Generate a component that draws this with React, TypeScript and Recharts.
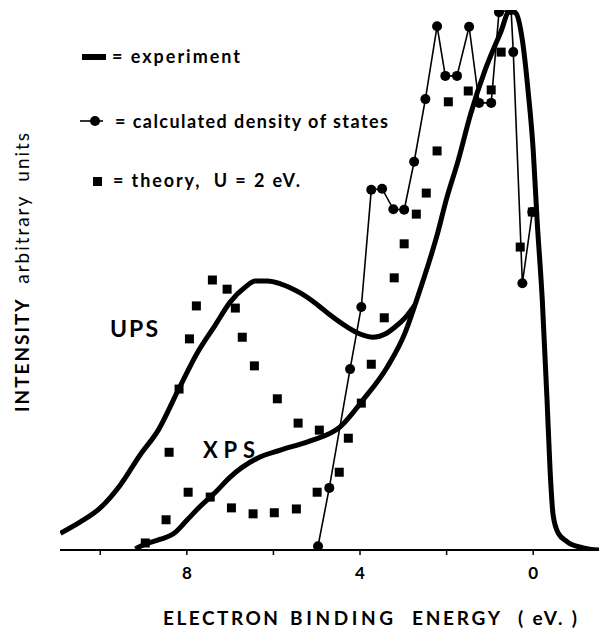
import {
  ComposedChart,
  Line,
  Scatter,
  XAxis,
  YAxis,
} from 'recharts';

// binding energy (eV), intensity in arbitrary units (0-100)
const upsExperiment: [number, number][] = [
  [10.92, 3.1], [10.46, 5.2], [10.0, 7.8], [9.54, 12.0], [9.08, 17.6], [8.66, 22.2],
  [8.2, 29.6], [7.76, 36.5], [7.34, 41.7], [7.0, 45.9], [6.65, 48.7], [6.42, 49.8],
  [6.14, 49.8], [5.84, 49.3], [5.38, 47.6], [5.03, 45.7], [4.69, 43.5], [4.3, 41.3],
  [4.0, 40.0], [3.7, 39.4], [3.42, 40.0], [3.19, 41.3], [2.96, 43.0], [2.73, 45.4],
];

const xpsExperiment: [number, number][] = [
  [9.19, 0.2], [8.96, 1.1], [8.61, 2.0], [8.31, 3.0], [7.99, 5.6], [7.69, 8.1],
  [7.34, 10.7], [7.0, 13.5], [6.37, 17.0], [5.84, 18.5], [5.15, 20.2], [4.46, 22.8],
  [3.93, 27.8], [3.37, 33.9], [2.96, 40.2], [2.73, 45.4], [2.45, 52.2], [2.22, 58.3],
  [2.01, 64.8], [1.73, 72.2], [1.45, 80.6], [1.11, 88.9], [0.76, 95.7], [0.53, 100],
  [0.39, 99.3], [0.25, 94.4], [0.12, 85.2], [0.0, 74.1], [-0.09, 61.1], [-0.21, 46.3],
  [-0.32, 27.8], [-0.39, 14.8], [-0.46, 6.5], [-0.58, 3.1], [-0.79, 1.5], [-1.15, 0.4],
  [-1.52, 0],
];

const densityOfStates: [number, number][] = [
  [4.97, 0.7], [4.71, 11.5], [4.23, 33.5], [3.97, 45.0], [3.74, 66.7], [3.49, 66.9],
  [3.23, 63.1], [2.98, 63.0], [2.75, 71.9], [2.49, 83.5], [2.22, 97.0], [2.03, 87.8],
  [1.76, 87.8], [1.48, 96.9], [1.25, 82.8], [0.97, 82.8], [0.79, 99.6], [0.51, 100],
  [0.46, 92.2], [0.25, 49.4], [0.02, 62.6],
];

const theoryUps: [number, number][] = [
  [8.41, 18.1], [8.18, 29.8], [7.94, 39.1], [7.78, 45.2], [7.41, 50.0], [7.07, 48.3],
  [6.88, 44.8], [6.72, 39.4], [6.44, 34.1], [5.91, 28.0], [5.43, 23.5], [4.94, 22.2],
  [4.27, 20.7],
];

const theoryXps: [number, number][] = [
  [8.96, 1.3], [8.48, 5.6], [7.97, 10.7], [7.46, 9.8], [6.97, 7.8], [6.47, 6.7],
  [5.98, 6.9], [5.47, 7.6], [4.99, 10.7], [4.48, 14.4], [3.97, 27.2], [3.74, 34.4],
  [3.44, 43.0], [3.21, 50.4], [2.98, 56.7], [2.7, 62.2], [2.47, 66.1], [2.22, 73.9],
  [1.96, 83.0], [1.5, 85.0], [0.97, 85.2], [0.74, 92.2], [0.3, 56.1], [0.02, 62.6],
];

const xTicks = [10, 8, 6, 4, 2, 0];
const xTickLabels = ['', '8', '', '4', '', '0'];

const toPoints = (arr: [number, number][]) => arr.map(([x, y]) => ({ x, y }));

const FONT = 'Lato, "Open Sans", sans-serif';

const XTick = (props: any) => {
  const { x, y, payload } = props;
  const label = xTickLabels[xTicks.indexOf(payload.value)];
  if (!label) return <g />;
  return (
    <text x={x} y={y + 22} textAnchor="middle" fontFamily={FONT} fontWeight={700} fontSize={17} fill="#000">
      {label}
    </text>
  );
};

const SquareDot = (props: any) => {
  const { cx, cy } = props;
  return <rect x={cx - 4.5} y={cy - 4.5} width={9} height={9} fill="#000" />;
};

export default function App() {
  return (
    <div style={{ position: 'fixed', left: 0, top: 0, width: 599, height: 630, background: '#fff' }}>
      <ComposedChart width={599} height={630} margin={{ top: 10, right: 0, left: 60, bottom: 50 }}>
        <XAxis
          dataKey="x"
          type="number"
          domain={[-1.52, 10.93]}
          allowDataOverflow
          reversed
          ticks={xTicks}
          tick={<XTick />}
          tickSize={5}
          height={30}
          axisLine={{ stroke: '#000', strokeWidth: 2 }}
          tickLine={{ stroke: '#000', strokeWidth: 1.5 }}
        />
        <YAxis
          dataKey="y"
          type="number"
          domain={[0, 100]}
          allowDataOverflow
          width={0}
          tick={false}
          tickLine={false}
          axisLine={{ stroke: '#000', strokeWidth: 2 }}
        />
        <Line
          data={toPoints(upsExperiment)}
          dataKey="y"
          type="monotone"
          stroke="#000"
          strokeWidth={5}
          dot={false}
          isAnimationActive={false}
        />
        <Line
          data={toPoints(xpsExperiment)}
          dataKey="y"
          type="monotone"
          stroke="#000"
          strokeWidth={5}
          dot={false}
          isAnimationActive={false}
        />
        <Line
          data={toPoints(densityOfStates)}
          dataKey="y"
          type="linear"
          stroke="#000"
          strokeWidth={1.6}
          dot={{ r: 5, fill: '#000', stroke: 'none' }}
          isAnimationActive={false}
        />
        <Scatter data={toPoints(theoryUps)} dataKey="y" shape={<SquareDot />} isAnimationActive={false} />
        <Scatter data={toPoints(theoryXps)} dataKey="y" shape={<SquareDot />} isAnimationActive={false} />
      </ComposedChart>

      {/* legend, annotations and axis titles */}
      <svg
        width={599}
        height={630}
        style={{ position: 'absolute', left: 0, top: 0, pointerEvents: 'none' }}
        fontFamily={FONT}
        fill="#000"
      >
        <rect x={82} y={54} width={24} height={6} fill="#000" />
        <text x={112} y={63} fontSize={18} fontWeight={700} textLength={128} lengthAdjust="spacing">
          = experiment
        </text>

        <line x1={80} y1={121} x2={103} y2={121} stroke="#000" strokeWidth={1.6} />
        <circle cx={95} cy={121} r={5} fill="#000" />
        <text x={115} y={128} fontSize={18} fontWeight={700} textLength={273} lengthAdjust="spacing">
          = calculated density of states
        </text>

        <rect x={93} y={177} width={9} height={9} fill="#000" />
        <text x={113} y={187} fontSize={18} fontWeight={700} textLength={187} lengthAdjust="spacing" style={{ whiteSpace: 'pre' }}>
          {'= theory,  U = 2 eV.'}
        </text>

        <text x={110} y={337} fontSize={23} fontWeight={700} textLength={48} lengthAdjust="spacing">
          UPS
        </text>
        <text x={203} y={458} fontSize={22} fontWeight={700} textLength={52} lengthAdjust="spacing">
          XPS
        </text>

        <text y={625} fontSize={19} fontWeight={700}>
          <tspan x={163} textLength={115}>ELECTRON</tspan>
          <tspan x={290} textLength={103}>BINDING</tspan>
          <tspan x={412} textLength={88}>ENERGY</tspan>
          <tspan x={518} textLength={59} style={{ whiteSpace: 'pre' }}>{'( eV. )'}</tspan>
        </text>

        <text transform="translate(29, 412) rotate(-90)" fontSize={19} textLength={279} lengthAdjust="spacing" style={{ whiteSpace: 'pre' }}>
          <tspan fontWeight={700}>INTENSITY</tspan>
          <tspan>{'  arbitrary  units'}</tspan>
        </text>
      </svg>
    </div>
  );
}
